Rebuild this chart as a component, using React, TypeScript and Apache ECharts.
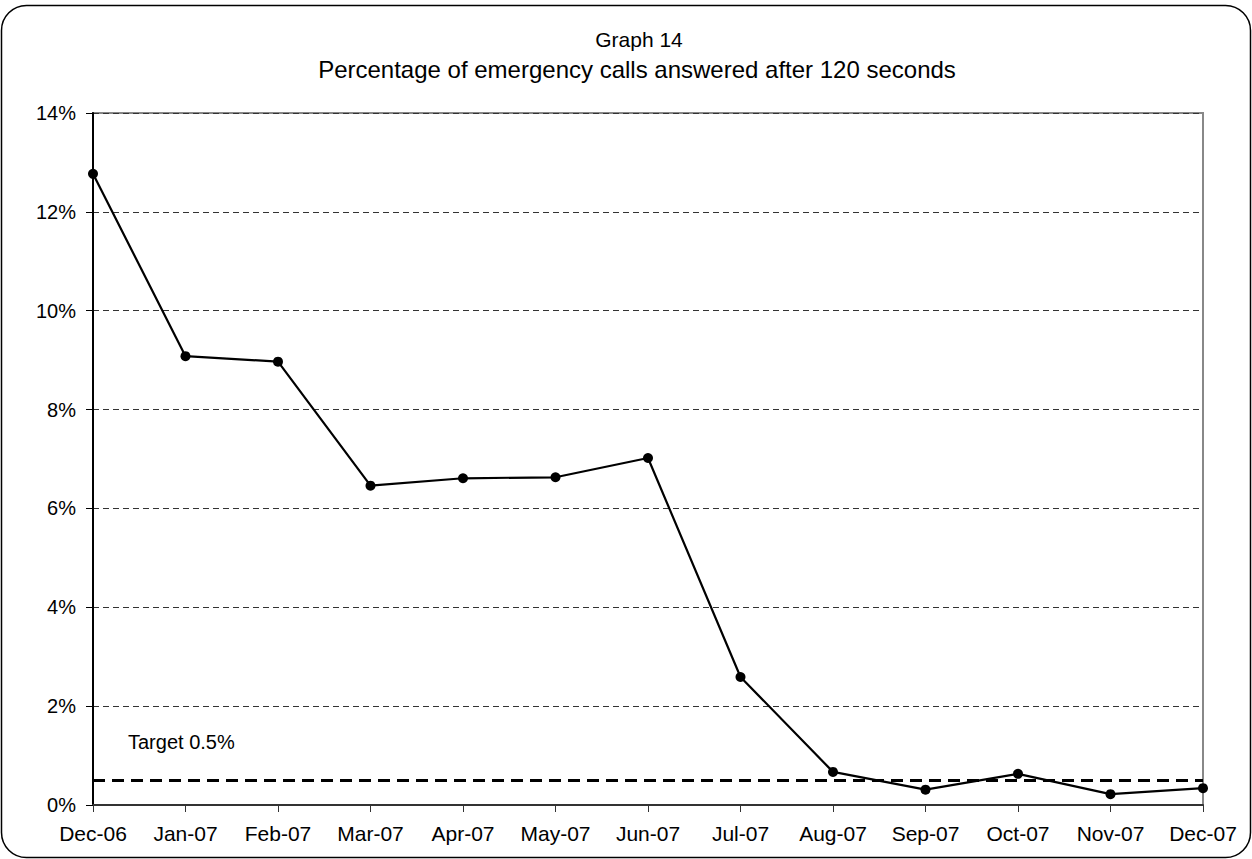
import React, { useEffect, useRef } from "react";
import * as echarts from "echarts";

const months = ["Dec-06", "Jan-07", "Feb-07", "Mar-07", "Apr-07", "May-07", "Jun-07", "Jul-07", "Aug-07", "Sep-07", "Oct-07", "Nov-07", "Dec-07"];
const pctAfter120 = [12.77, 9.08, 8.97, 6.46, 6.61, 6.63, 7.02, 2.59, 0.67, 0.31, 0.63, 0.22, 0.34];
const targetValue = 0.5;
const yTicks = { min: 0, max: 14, interval: 2 };
const titleLines = ["Graph 14", "Percentage of emergency calls answered after 120 seconds"];
const targetLabel = "Target 0.5%";

const FONT = "'Liberation Sans', Arial, sans-serif";

export default function App() {
  const ref = useRef<HTMLDivElement>(null);
  useEffect(() => {
    if (!ref.current) return;
    const chart = echarts.init(ref.current, null, { renderer: "svg" });
    chart.setOption({
      animation: false,
      backgroundColor: "#ffffff",
      textStyle: { fontFamily: FONT },
      graphic: [
        {
          type: "rect",
          shape: { x: 1.5, y: 5.5, width: 1249, height: 852, r: 25 },
          style: { fill: "none", stroke: "#000", lineWidth: 1.5 },
          silent: true,
          z: 0,
        },
        {
          type: "text",
          x: 639,
          y: 39,
          style: { text: titleLines[0], fontFamily: FONT, fontSize: 21, fill: "#000", align: "center", verticalAlign: "middle" },
          z: 10,
        },
        {
          type: "text",
          x: 637,
          y: 69,
          style: { text: titleLines[1], fontFamily: FONT, fontSize: 24, fill: "#000", align: "center", verticalAlign: "middle" },
          z: 10,
        },
        {
          type: "text",
          x: 128,
          y: 742,
          style: { text: targetLabel, fontFamily: FONT, fontSize: 20, fill: "#000", verticalAlign: "middle" },
          z: 10,
        },
      ],
      grid: {
        left: 93,
        right: 49,
        top: 113,
        bottom: 54,
        show: true,
        borderColor: "#888",
        borderWidth: 2,
        containLabel: false,
      },
      xAxis: {
        type: "category",
        data: months,
        boundaryGap: false,
        axisLine: { lineStyle: { color: "#333", width: 2 } },
        axisTick: { show: true, inside: false, length: 7, lineStyle: { color: "#333", width: 1 } },
        axisLabel: { color: "#000", fontSize: 21, fontFamily: FONT, margin: 18, interval: 0 },
        splitLine: { show: false },
      },
      yAxis: {
        type: "value",
        min: yTicks.min,
        max: yTicks.max,
        interval: yTicks.interval,
        axisLine: { show: true, lineStyle: { color: "#000", width: 2 } },
        axisTick: { show: true, length: 7, lineStyle: { color: "#000", width: 1 } },
        axisLabel: { color: "#000", fontSize: 20, fontFamily: FONT, margin: 17, formatter: (v: number) => v + "%" },
        splitLine: { show: true, lineStyle: { color: "#333", width: 1, type: [6, 4] } },
      },
      series: [
        {
          type: "line",
          data: pctAfter120,
          symbol: "circle",
          symbolSize: 10,
          lineStyle: { color: "#000", width: 2.2 },
          itemStyle: { color: "#000" },
          z: 5,
          markLine: {
            silent: true,
            symbol: ["none", "none"],
            label: { show: false },
            lineStyle: { color: "#000", width: 3, type: [12, 7] },
            data: [{ yAxis: targetValue }],
          },
        },
      ],
    });
    return () => chart.dispose();
  }, []);
  return <div ref={ref} style={{ position: "fixed", left: 0, top: 0, width: 1252, height: 859 }} />;
}
